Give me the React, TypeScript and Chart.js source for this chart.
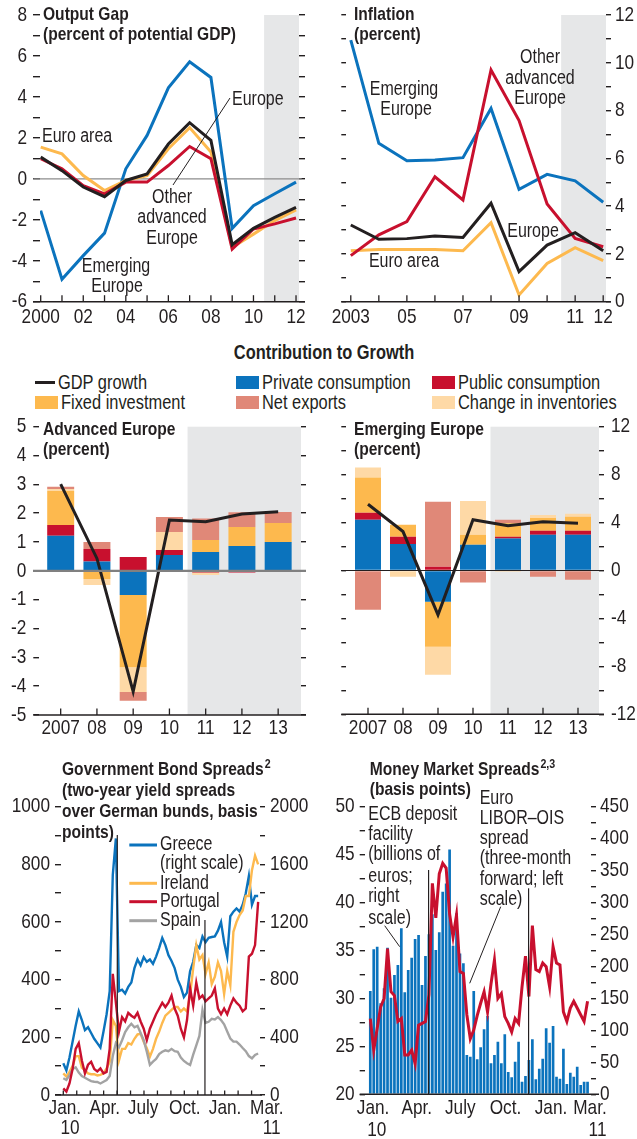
import React, { useEffect, useRef } from "react";
import { Chart, registerables } from "chart.js";

Chart.register(...registerables);

const FONT = "'Liberation Sans', Arimo, Arial, sans-serif";
const SX = 0.82; // horizontal condensing, Arial-Narrow-like
const TXT = "#231f20";
const BLUE = "#0b73bd";
const RED = "#c8102e";
const YELLOW = "#fdb94e";
const LIGHT = "#fed9a6";
const SALMON = "#e08878";
const BLACK = "#231f20";
const SPAIN = "#a3a3a3";
const SHADE = "#e6e7e8";

// ---------------- Output gap ----------------
const gapYears = [2000, 2001, 2002, 2003, 2004, 2005, 2006, 2007, 2008, 2009, 2010, 2011, 2012];
const gapEmerging = [-1.55, -4.9, -3.75, -2.65, 0.49, 2.12, 4.44, 5.71, 4.95, -2.42, -1.31, -0.73, -0.16];
const gapEuroArea = [1.55, 1.22, 0.16, -0.57, -0.08, 0.16, 1.47, 2.5, 1.31, -3.35, -2.7, -2.04, -1.52];
const gapEurope = [1.06, 0.4, -0.4, -0.87, -0.08, 0.24, 1.7, 2.74, 1.88, -3.22, -2.42, -1.88, -1.39];
const gapOtherAdv = [0.98, 0.49, -0.33, -0.73, -0.16, -0.16, 0.65, 1.58, 0.98, -3.43, -2.45, -2.2, -1.91];
const gapTickLabels = ["2000", "02", "04", "06", "08", "10", "12"];
const gapLabelYears = [2000, 2002, 2004, 2006, 2008, 2010, 2012];

// ---------------- Inflation ----------------
const inflYears = [2003, 2004, 2005, 2006, 2007, 2008, 2009, 2010, 2011, 2012];
const inflEmerging = [10.95, 6.63, 5.9, 5.93, 6.03, 8.09, 4.7, 5.33, 5.06, 4.16];
const inflOtherAdv = [1.93, 2.8, 3.35, 5.23, 4.26, 9.7, 7.58, 4.09, 2.65, 2.3];
const inflEurope = [3.21, 2.61, 2.64, 2.75, 2.69, 4.12, 1.26, 2.37, 2.89, 2.13];
const inflEuroArea = [2.13, 2.19, 2.19, 2.19, 2.13, 3.31, 0.28, 1.6, 2.26, 1.72];
const inflTickLabels = ["2003", "05", "07", "09", "11", "12"];
const inflLabelYears = [2003, 2005, 2007, 2009, 2011, 2012];

// ---------------- Contribution to growth ----------------
const growthYears = [2007, 2008, 2009, 2010, 2011, 2012, 2013];
const growthLabels = ["2007", "08", "09", "10", "11", "12", "13"];

const advPrivate = [1.22, 0.32, -0.84, 0.55, 0.65, 0.86, 1.0];
const advPublic = [0.37, 0.44, 0.48, 0.17, -0.06, -0.06, -0.04];
const advFixed = [1.18, -0.28, -2.5, -0.03, 0.42, 0.66, 0.66];
const advInventories = [0.07, -0.21, -0.86, 0.63, -0.08, 0, 0];
const advNetExports = [0.08, 0.24, -0.31, 0.52, 0.75, 0.51, 0.38];
const advGdp = [3.01, 0.43, -4.19, 1.76, 1.7, 1.97, 2.05];

const emPrivate = [4.23, 2.22, -2.61, 2.14, 2.67, 2.98, 2.98];
const emPublic = [0.58, 0.59, 0.31, 0, 0.14, 0.33, 0.33];
const emFixed = [2.95, 1.0, -3.76, 0.84, 1.14, 1.08, 1.17];
const emInventories = [0.83, -0.53, -2.33, 2.83, -0.1, 0.25, 0.25];
const emNetExports = [-3.28, 0, 5.42, -1.0, 0.28, -0.53, -0.78];
const emGdp = [5.53, 3.25, -3.7, 4.23, 3.73, 4.06, 3.95];

// ---------------- Government bond spreads (weekly, Jan 2010 - Mar 2011) ----------------
const bondGreece = [220, 170, 260, 370, 480, 580, 520, 450, 470, 430, 390, 360, 330, 440, 560, 720, 1526, 1780, 720, 730, 704, 750, 780, 880, 940, 900, 956, 924, 940, 910, 960, 1020, 1090, 1040, 970, 930, 880, 800, 750, 680, 710, 860, 924, 1040, 1020, 1100, 1060, 1090, 1096, 1100, 1140, 1200, 1060, 960, 1240, 1272, 1294, 1272, 1320, 1400, 1520, 1320, 1380, 1380];
const bondIreland = [75, 64, 80, 100, 135, 135, 95, 85, 75, 72, 72, 68, 70, 75, 92, 115, 260, 240, 120, 160, 160, 180, 175, 195, 210, 212, 185, 162, 133, 160, 195, 220, 250, 275, 285, 295, 305, 305, 290, 300, 290, 347, 440, 520, 470, 485, 420, 460, 385, 410, 460, 430, 350, 430, 380, 566, 600, 624, 640, 690, 690, 780, 830, 800];
const bondPortugal = [23, 12, 40, 90, 160, 180, 120, 75, 105, 115, 90, 82, 92, 75, 80, 160, 420, 320, 220, 270, 255, 285, 275, 268, 285, 255, 230, 190, 230, 255, 280, 300, 320, 305, 320, 345, 300, 275, 230, 200, 260, 370, 310, 390, 335, 345, 325, 335, 345, 370, 300, 280, 300, 280, 310, 335, 320, 310, 290, 300, 480, 490, 520, 670];
const bondSpain = [58, 52, 69, 90, 96, 78, 66, 60, 54, 48, 46, 45, 40, 46, 52, 66, 135, 180, 165, 190, 218, 235, 247, 235, 240, 215, 190, 150, 105, 116, 125, 142, 150, 155, 152, 160, 152, 150, 130, 118, 110, 104, 140, 172, 205, 295, 250, 254, 264, 262, 270, 260, 245, 220, 196, 185, 185, 175, 163, 152, 135, 127, 139, 144];
const bondMonthLabels = ["Jan.", "Apr.", "July", "Oct.", "Jan.", "Mar."];
const bondMonthWeeks = [0.5, 13.4, 25.8, 39.3, 52.3, 65.8];
const bondYearLabels = ["10", "11"];
const bondYearWeeks = [2.2, 67.4];
const bondEventWeeks = [17.46, 45.8];

// ---------------- Money market spreads (weekly) ----------------
const ecbDeposit = [161.6, 226.8, 231, 142.3, 165.8, 229.4, 151.2, 186.7, 202.3, 259.7, 159.5, 194.5, 213.8, 243, 249.2, 171, 216.4, 250.3, 281.6, 225.8, 253.4, 317, 330, 383.2, 232.5, 283.1, 220.5, 204.9, 61.5, 58.9, 161.6, 54.7, 73.5, 101.7, 122.5, 48.5, 61.5, 82.4, 48.5, 93.9, 34.9, 26.6, 51.1, 82.4, 19.8, 28.7, 53.7, 86, 23.5, 40.1, 55.8, 103.2, 80.8, 106.9, 27.6, 24.5, 71.4, 16.2, 33.9, 27.6, 43.3, 14.6, 19.8, 19.8];
const liborOis = [27.9, 24.6, 26.9, 29.1, 30, 35.2, 30.7, 30.3, 27.6, 27.9, 24.1, 24.1, 24.6, 23.2, 27.2, 27.4, 27.6, 30.4, 42, 38.4, 43, 44.1, 43.6, 38.8, 36.4, 38.7, 32.8, 32.6, 28.3, 25.8, 26.7, 28.2, 29.5, 30.7, 28.6, 31.5, 34, 30, 30.5, 28.1, 27.4, 26.5, 27.9, 27.4, 31.2, 34.4, 30.2, 37.6, 33, 32.8, 33.7, 33.3, 31.2, 35.4, 33.7, 33.5, 28.6, 27.6, 29, 29.7, 29, 28.3, 27.6, 29.7];
const mmMonthLabels = ["Jan.", "Apr.", "July", "Oct.", "Jan.", "Mar."];
const mmMonthWeeks = [0.8, 13.5, 26.1, 39.2, 52.4, 63.7];
const mmYearLabels = ["10", "11"];
const mmYearWeeks = [1.9, 65.9];
const mmEventWeeks = [16.9, 45.9];

// ---------------- helpers ----------------
type TextItem = { x: number; y: number; t: string; bold?: boolean; align?: CanvasTextAlign; size?: number; sup?: string };
type YLab = { id: string; side: "left" | "right"; every: number; gap: number };
type Deco = {
  shadeFrom?: number;
  zero?: { color: string; width: number; extL: number; extR: number; after?: boolean };
  axis: { extL: number; extR: number };
  xticks?: { values: number[]; len: number };
  xlabels?: { v: number; t: string; y: number }[];
  ylabels?: YLab[];
  vlines?: { v: number; top: number }[];
  leaders?: number[][];
  swatches?: { x1: number; x2: number; y: number; color: string; w: number }[];
  texts?: TextItem[];
};

const fnt = (size: number, bold = false) => `${bold ? "bold " : ""}${size}px ${FONT}`;
const TICK_SIZE = 21;
const ANN_SIZE = 19.5;

function drawText(ctx: CanvasRenderingContext2D, t: string, x: number, y: number, align: CanvasTextAlign, font: string) {
  ctx.save();
  ctx.font = font;
  ctx.textAlign = align;
  ctx.textBaseline = "middle";
  ctx.translate(x, y);
  ctx.scale(SX, 1);
  ctx.fillText(t, 0, 0);
  ctx.restore();
}

function fmt(v: number) {
  return String(Math.round(v * 100) / 100);
}

function decoPlugin(d: Deco) {
  const drawZero = (chart: any) => {
    const z = d.zero!;
    const a = chart.chartArea;
    const y = chart.scales.y.getPixelForValue(0);
    const ctx = chart.ctx;
    ctx.save();
    ctx.strokeStyle = z.color;
    ctx.lineWidth = z.width;
    ctx.beginPath();
    ctx.moveTo(a.left - z.extL, y);
    ctx.lineTo(a.right + z.extR, y);
    ctx.stroke();
    ctx.restore();
  };
  return {
    id: "deco",
    beforeDatasetsDraw(chart: any) {
      const { ctx, chartArea: a } = chart;
      if (d.shadeFrom !== undefined) {
        const px = chart.scales.x.getPixelForValue(d.shadeFrom);
        ctx.save();
        ctx.fillStyle = SHADE;
        ctx.fillRect(px, a.top, a.right - px, a.bottom - a.top);
        ctx.restore();
      }
      if (d.zero && !d.zero.after) drawZero(chart);
    },
    afterDatasetsDraw(chart: any) {
      const { ctx, chartArea: a } = chart;
      const xs = chart.scales.x;
      if (d.zero && d.zero.after) drawZero(chart);
      ctx.save();
      ctx.strokeStyle = TXT;
      ctx.fillStyle = TXT;
      ctx.lineWidth = 1.2;
      (d.vlines || []).forEach((v) => {
        const px = xs.getPixelForValue(v.v);
        ctx.beginPath();
        ctx.moveTo(px, v.top);
        ctx.lineTo(px, a.bottom);
        ctx.stroke();
      });
      ctx.lineWidth = 1.6;
      ctx.beginPath();
      ctx.moveTo(a.left - d.axis.extL, a.bottom);
      ctx.lineTo(a.right + d.axis.extR, a.bottom);
      ctx.stroke();
      if (d.xticks) {
        ctx.lineWidth = 1.3;
        d.xticks.values.forEach((v) => {
          const px = xs.getPixelForValue(v);
          ctx.beginPath();
          ctx.moveTo(px, a.bottom);
          ctx.lineTo(px, a.bottom - d.xticks!.len);
          ctx.stroke();
        });
      }
      (d.xlabels || []).forEach((l) => drawText(ctx, l.t, xs.getPixelForValue(l.v), l.y, "center", fnt(TICK_SIZE)));
      (d.ylabels || []).forEach((yl) => {
        const sc = chart.scales[yl.id];
        sc.ticks.forEach((tk: any) => {
          const r = tk.value / yl.every;
          if (Math.abs(r - Math.round(r)) > 1e-6) return;
          const py = sc.getPixelForValue(tk.value);
          if (yl.side === "left") drawText(ctx, fmt(tk.value), a.left - yl.gap, py, "right", fnt(TICK_SIZE));
          else drawText(ctx, fmt(tk.value), a.right + yl.gap, py, "left", fnt(TICK_SIZE));
        });
      });
      ctx.strokeStyle = TXT;
      ctx.lineWidth = 1;
      (d.leaders || []).forEach(([x1, y1, x2, y2]) => {
        ctx.beginPath();
        ctx.moveTo(x1, y1);
        ctx.lineTo(x2, y2);
        ctx.stroke();
      });
      (d.swatches || []).forEach((s) => {
        ctx.strokeStyle = s.color;
        ctx.lineWidth = s.w;
        ctx.beginPath();
        ctx.moveTo(s.x1, s.y);
        ctx.lineTo(s.x2, s.y);
        ctx.stroke();
      });
      ctx.fillStyle = TXT;
      (d.texts || []).forEach((t) => {
        const f = fnt(t.size || ANN_SIZE, t.bold);
        drawText(ctx, t.t, t.x, t.y, t.align || "left", f);
        if (t.sup) {
          ctx.font = f;
          const w = ctx.measureText(t.t).width * SX;
          drawText(ctx, t.sup, t.x + w + 1, t.y - 6, "left", fnt(13, t.bold));
        }
      });
      ctx.restore();
    },
  };
}

type Geom = { left: number; top: number; w: number; h: number; L: number; R: number; T: number; B: number };

function opts(g: Geom, scales: any) {
  return {
    animation: false,
    responsive: false,
    maintainAspectRatio: false,
    devicePixelRatio: 1,
    events: [],
    layout: { padding: { top: g.T, bottom: g.h - g.B, left: 0, right: 0 } },
    plugins: { legend: { display: false }, tooltip: { enabled: false }, title: { display: false } },
    scales,
  };
}

function xScale(min: number, max: number) {
  return { type: "linear", min, max, display: false, offset: false, stacked: true };
}

function yScale(p: { pos: "left" | "right"; min: number; max: number; step: number; width: number; tick: number; stacked?: boolean }) {
  return {
    type: "linear",
    position: p.pos,
    min: p.min,
    max: p.max,
    stacked: !!p.stacked,
    afterFit: (s: any) => {
      s.width = p.width;
    },
    border: { display: false },
    grid: { drawOnChartArea: false, drawTicks: true, tickLength: p.tick, color: TXT, lineWidth: 1.4 },
    ticks: { display: false, stepSize: p.step, autoSkip: false },
  };
}

function lineDs(xs: number[], ys: number[], color: string, width: number, order: number, yAxisID = "y") {
  return {
    type: "line",
    data: xs.map((x, i) => ({ x, y: ys[i] })),
    borderColor: color,
    backgroundColor: color,
    borderWidth: width,
    pointRadius: 0,
    tension: 0,
    fill: false,
    order,
    yAxisID,
  };
}

function barDs(xs: number[], ys: number[], color: string, pct: number, yAxisID = "y", order = 1) {
  return {
    type: "bar",
    data: xs.map((x, i) => ({ x, y: ys[i] })),
    backgroundColor: color,
    borderWidth: 0,
    barPercentage: pct,
    categoryPercentage: 1,
    stack: "s",
    order,
    yAxisID,
  };
}

function ChartPanel({ g, build }: { g: Geom; build: () => any }) {
  const ref = useRef<HTMLCanvasElement>(null);
  useEffect(() => {
    const chart = new Chart(ref.current as HTMLCanvasElement, build());
    return () => chart.destroy();
  }, []);
  return (
    <canvas
      ref={ref}
      width={g.w}
      height={g.h}
      style={{ position: "absolute", left: g.left, top: g.top, width: g.w, height: g.h }}
    />
  );
}

// ---------------- panel geometries ----------------
const G1: Geom = { left: 0, top: 0, w: 320, h: 335, L: 40, R: 299, T: 15, B: 301.7 };
const G2: Geom = { left: 320, top: 0, w: 317, h: 335, L: 26.3, R: 286, T: 15, B: 301.7 };
const G3: Geom = { left: 0, top: 415, w: 320, h: 330, L: 39.3, R: 301, T: 11.7, B: 300 };
const G4: Geom = { left: 320, top: 415, w: 317, h: 330, L: 26.3, R: 279, T: 11.7, B: 299.3 };
const G5: Geom = { left: 0, top: 755, w: 320, h: 384, L: 60.7, R: 260, T: 51.7, B: 340 };
const G6: Geom = { left: 320, top: 755, w: 317, h: 384, L: 44.7, R: 271, T: 51.7, B: 339.3 };

function buildGap() {
  const deco = decoPlugin({
    shadeFrom: 2010.5,
    zero: { color: "#8c8c8c", width: 1.3, extL: 6.7, extR: 2.7 },
    axis: { extL: 7, extR: 6 },
    xticks: { values: gapYears, len: 6.5 },
    xlabels: gapLabelYears.map((v, i) => ({ v, t: gapTickLabels[i], y: 317 })),
    ylabels: [{ id: "y", side: "left", every: 2, gap: 13 }],
    leaders: [[230, 98, 173, 185]],
    texts: [
      { x: 43, y: 15, t: "Output Gap", bold: true, size: 19 },
      { x: 43, y: 35, t: "(percent of potential GDP)", bold: true, size: 19 },
      { x: 42, y: 137, t: "Euro area" },
      { x: 232, y: 100, t: "Europe" },
      { x: 172, y: 198, t: "Other", align: "center" },
      { x: 172, y: 218, t: "advanced", align: "center" },
      { x: 172, y: 239, t: "Europe", align: "center" },
      { x: 116, y: 267, t: "Emerging", align: "center" },
      { x: 117, y: 287, t: "Europe", align: "center" },
    ],
  });
  return {
    type: "line",
    data: {
      datasets: [
        lineDs(gapYears, gapEurope, BLACK, 3, 0),
        lineDs(gapYears, gapOtherAdv, RED, 3, 1),
        lineDs(gapYears, gapEuroArea, YELLOW, 3, 2),
        lineDs(gapYears, gapEmerging, BLUE, 3, 3),
      ],
    },
    options: opts(G1, {
      x: xScale(1999.967, 2012.14),
      y: yScale({ pos: "left", min: -6, max: 8, step: 1, width: G1.L, tick: 7 }),
      y2: yScale({ pos: "right", min: -6, max: 8, step: 1, width: G1.w - G1.R, tick: 6 }),
    }),
    plugins: [deco],
  };
}

function buildInfl() {
  const deco = decoPlugin({
    shadeFrom: 2010.5,
    axis: { extL: 5, extR: 5 },
    xticks: { values: inflYears, len: 6.5 },
    xlabels: inflLabelYears.map((v, i) => ({ v, t: inflTickLabels[i], y: 317 })),
    ylabels: [{ id: "y2", side: "right", every: 2, gap: 9 }],
    texts: [
      { x: 34, y: 15, t: "Inflation", bold: true, size: 19 },
      { x: 34, y: 35, t: "(percent)", bold: true, size: 19 },
      { x: 84, y: 90, t: "Emerging", align: "center" },
      { x: 86, y: 110, t: "Europe", align: "center" },
      { x: 220, y: 58, t: "Other", align: "center" },
      { x: 220, y: 79, t: "advanced", align: "center" },
      { x: 220, y: 99, t: "Europe", align: "center" },
      { x: 213, y: 232, t: "Europe", align: "center" },
      { x: 84, y: 262, t: "Euro area", align: "center" },
    ],
  });
  return {
    type: "line",
    data: {
      datasets: [
        lineDs(inflYears, inflEurope, BLACK, 3, 0),
        lineDs(inflYears, inflOtherAdv, RED, 3, 1),
        lineDs(inflYears, inflEuroArea, YELLOW, 3, 2),
        lineDs(inflYears, inflEmerging, BLUE, 3, 3),
      ],
    },
    options: opts(G2, {
      x: xScale(2002.84, 2012.1),
      y: yScale({ pos: "left", min: 0, max: 12, step: 1, width: G2.L, tick: 5 }),
      y2: yScale({ pos: "right", min: 0, max: 12, step: 1, width: G2.w - G2.R, tick: 5 }),
    }),
    plugins: [deco],
  };
}

function growthDatasets(p: number[], pub: number[], fix: number[], inv: number[], nx: number[], gdp: number[], pct: number) {
  return [
    lineDs(growthYears, gdp, BLACK, 3, 0),
    barDs(growthYears, p, BLUE, pct),
    barDs(growthYears, pub, RED, pct),
    barDs(growthYears, fix, YELLOW, pct),
    barDs(growthYears, inv, LIGHT, pct),
    barDs(growthYears, nx, SALMON, pct),
  ];
}

function buildAdv() {
  const deco = decoPlugin({
    shadeFrom: 2010.5,
    zero: { color: "#808080", width: 2.2, extL: 6.3, extR: 5, after: true },
    axis: { extL: 6, extR: 5 },
    xticks: { values: growthYears, len: 6.5 },
    xlabels: growthYears.map((v, i) => ({ v, t: growthLabels[i], y: 313.5 })),
    ylabels: [{ id: "y", side: "left", every: 1, gap: 13 }],
    texts: [
      { x: 43, y: 15, t: "Advanced Europe", bold: true, size: 19 },
      { x: 43, y: 35, t: "(percent)", bold: true, size: 19 },
    ],
  });
  return {
    type: "bar",
    data: { datasets: growthDatasets(advPrivate, advPublic, advFixed, advInventories, advNetExports, advGdp, 0.744) },
    options: opts(G3, {
      x: xScale(2006.41, 2013.63),
      y: yScale({ pos: "left", min: -5, max: 5, step: 1, width: G3.L, tick: 6, stacked: true }),
      y2: yScale({ pos: "right", min: -5, max: 5, step: 1, width: G3.w - G3.R, tick: 5 }),
    }),
    plugins: [deco],
  };
}

function buildEm() {
  const deco = decoPlugin({
    shadeFrom: 2010.5,
    zero: { color: TXT, width: 1, extL: 5.3, extR: 5, after: true },
    axis: { extL: 5, extR: 5 },
    xticks: { values: growthYears, len: 6.5 },
    xlabels: growthYears.map((v, i) => ({ v, t: growthLabels[i], y: 313.5 })),
    ylabels: [{ id: "y2", side: "right", every: 4, gap: 12 }],
    texts: [
      { x: 34, y: 15, t: "Emerging Europe", bold: true, size: 19 },
      { x: 34, y: 35, t: "(percent)", bold: true, size: 19 },
    ],
  });
  return {
    type: "bar",
    data: { datasets: growthDatasets(emPrivate, emPublic, emFixed, emInventories, emNetExports, emGdp, 0.743) },
    options: opts(G4, {
      x: xScale(2006.38, 2013.6),
      y: yScale({ pos: "left", min: -12, max: 12, step: 2, width: G4.L, tick: 5, stacked: true }),
      y2: yScale({ pos: "right", min: -12, max: 12, step: 2, width: G4.w - G4.R, tick: 5 }),
    }),
    plugins: [deco],
  };
}

function buildBond() {
  const weeks = bondGreece.map((_, i) => i);
  const monthTicks = Array.from({ length: 15 }, (_, m) => m * 4.348);
  const deco = decoPlugin({
    axis: { extL: 5.7, extR: 2 },
    xticks: { values: monthTicks, len: 4.5 },
    xlabels: [
      ...bondMonthWeeks.map((v, i) => ({ v, t: bondMonthLabels[i], y: 353.3 })),
      ...bondYearWeeks.map((v, i) => ({ v, t: bondYearLabels[i], y: 373.3 })),
    ],
    ylabels: [
      { id: "y", side: "left", every: 200, gap: 10.7 },
      { id: "y2", side: "right", every: 400, gap: 10 },
    ],
    vlines: [
      { v: bondEventWeeks[0], top: 80 },
      { v: bondEventWeeks[1], top: 165 },
    ],
    swatches: [
      { x1: 129.3, x2: 157, y: 90, color: BLUE, w: 3 },
      { x1: 129.3, x2: 157, y: 128.3, color: YELLOW, w: 3 },
      { x1: 129.3, x2: 157, y: 146.7, color: RED, w: 3 },
      { x1: 129.3, x2: 157, y: 165.7, color: SPAIN, w: 3 },
    ],
    texts: [
      { x: 62, y: 15, t: "Government Bond Spreads", bold: true, size: 19, sup: "2" },
      { x: 62, y: 36, t: "(two-year yield spreads", bold: true, size: 19 },
      { x: 62, y: 56.7, t: "over German bunds, basis", bold: true, size: 19 },
      { x: 62, y: 77.3, t: "points)", bold: true, size: 19 },
      { x: 160, y: 90, t: "Greece" },
      { x: 160, y: 109, t: "(right scale)" },
      { x: 160, y: 128.3, t: "Ireland" },
      { x: 160, y: 146.7, t: "Portugal" },
      { x: 160, y: 165.7, t: "Spain" },
    ],
  });
  return {
    type: "line",
    data: {
      datasets: [
        lineDs(weeks, bondPortugal, RED, 2.4, 0),
        lineDs(weeks, bondSpain, SPAIN, 2.4, 1),
        lineDs(weeks, bondIreland, YELLOW, 2.4, 2),
        lineDs(weeks, bondGreece, BLUE, 2.4, 3, "y2"),
      ],
    },
    options: opts(G5, {
      x: xScale(-0.84, 63.6),
      y: yScale({ pos: "left", min: 0, max: 1000, step: 100, width: G5.L, tick: 5.7 }),
      y2: yScale({ pos: "right", min: 0, max: 2000, step: 200, width: G5.w - G5.R, tick: 5 }),
    }),
    plugins: [deco],
  };
}

function buildMoney() {
  const weeks = ecbDeposit.map((_, i) => i);
  const deco = decoPlugin({
    axis: { extL: 5, extR: 8 },
    xlabels: [
      ...mmMonthWeeks.map((v, i) => ({ v, t: mmMonthLabels[i], y: 353.3 })),
      ...mmYearWeeks.map((v, i) => ({ v, t: mmYearLabels[i], y: 375 })),
    ],
    ylabels: [
      { id: "y", side: "left", every: 5, gap: 10 },
      { id: "y2", side: "right", every: 50, gap: 9 },
    ],
    vlines: [
      { v: mmEventWeeks[0], top: 115 },
      { v: mmEventWeeks[1], top: 133.3 },
    ],
    leaders: [
      [64.7, 170.7, 79.7, 191.7],
      [180.7, 151.7, 149.7, 228.3],
    ],
    texts: [
      { x: 49.7, y: 15, t: "Money Market Spreads", bold: true, size: 19, sup: "2,3" },
      { x: 49.7, y: 35, t: "(basis points)", bold: true, size: 19 },
      { x: 48.3, y: 60, t: "ECB deposit" },
      { x: 48.3, y: 80, t: "facility" },
      { x: 48.3, y: 100, t: "(billions of" },
      { x: 48.3, y: 121.7, t: "euros;" },
      { x: 48.3, y: 141.7, t: "right" },
      { x: 48.3, y: 163.3, t: "scale)" },
      { x: 159.7, y: 43.3, t: "Euro" },
      { x: 159.7, y: 63.3, t: "LIBOR\u2013OIS" },
      { x: 159.7, y: 84, t: "spread" },
      { x: 159.7, y: 104, t: "(three-month" },
      { x: 159.7, y: 124.3, t: "forward; left" },
      { x: 159.7, y: 145, t: "scale)" },
    ],
  });
  return {
    type: "bar",
    data: {
      datasets: [
        lineDs(weeks, liborOis, RED, 3, 0, "y"),
        barDs(weeks, ecbDeposit, BLUE, 0.78, "y2", 1),
      ],
    },
    options: opts(G6, {
      x: xScale(-1.62, 64),
      y: yScale({ pos: "left", min: 20, max: 50, step: 2.5, width: G6.L, tick: 5 }),
      y2: yScale({ pos: "right", min: 0, max: 450, step: 25, width: G6.w - G6.R, tick: 5 }),
    }),
    plugins: [deco],
  };
}

const legendRows = [
  [
    { t: "GDP growth", c: BLACK, line: true, x: 35 },
    { t: "Private consumption", c: BLUE, line: false, x: 236 },
    { t: "Public consumption", c: RED, line: false, x: 432 },
  ],
  [
    { t: "Fixed investment", c: YELLOW, line: false, x: 35 },
    { t: "Net exports", c: SALMON, line: false, x: 236 },
    { t: "Change in inventories", c: LIGHT, line: false, x: 432 },
  ],
];

export default function App() {
  return (
    <div
      style={{
        position: "absolute",
        left: 0,
        top: 0,
        width: 637,
        height: 1139,
        background: "#ffffff",
        overflow: "hidden",
        color: TXT,
        fontFamily: FONT,
      }}
    >
      <ChartPanel g={G1} build={buildGap} />
      <ChartPanel g={G2} build={buildInfl} />
      <div
        style={{
          position: "absolute",
          left: 0,
          top: 341,
          width: 648,
          textAlign: "center",
          font: `bold 20px ${FONT}`,
          lineHeight: "22px",
          whiteSpace: "nowrap",
          transform: `scaleX(${SX})`,
          transformOrigin: "324px 50%",
        }}
      >
        Contribution to Growth
      </div>
      {legendRows.map((row, ri) =>
        row.map((it) => {
          const cy = 382 + ri * 20;
          return (
            <React.Fragment key={it.t}>
              {it.line ? (
                <div style={{ position: "absolute", left: it.x, top: cy - 1.5, width: 20, height: 3, background: it.c }} />
              ) : (
                <div style={{ position: "absolute", left: it.x, top: cy - 6.5, width: 23, height: 13, background: it.c }} />
              )}
              <div
                style={{
                  position: "absolute",
                  left: it.x + (it.line ? 23 : 26),
                  top: cy - 11,
                  height: 22,
                  lineHeight: "22px",
                  font: `20px ${FONT}`,
                  whiteSpace: "nowrap",
                  transform: `scaleX(${SX})`,
                  transformOrigin: "0 50%",
                }}
              >
                {it.t}
              </div>
            </React.Fragment>
          );
        })
      )}
      <ChartPanel g={G3} build={buildAdv} />
      <ChartPanel g={G4} build={buildEm} />
      <ChartPanel g={G5} build={buildBond} />
      <ChartPanel g={G6} build={buildMoney} />
    </div>
  );
}
